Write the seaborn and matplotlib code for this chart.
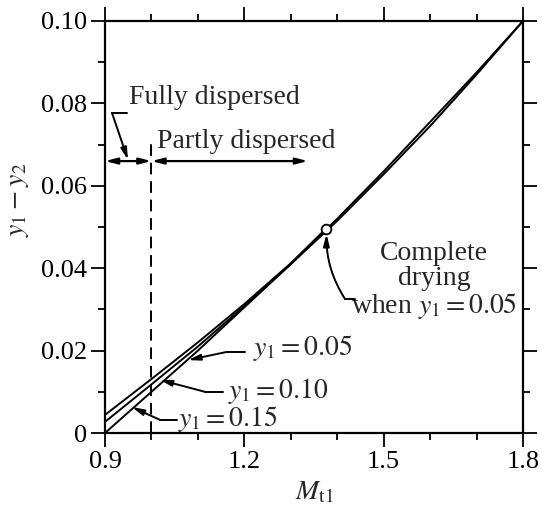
import numpy as np
import pandas as pd
import matplotlib
matplotlib.use("Agg")
import matplotlib.pyplot as plt
import seaborn as sns
from matplotlib.ticker import MultipleLocator, FixedLocator

# ---- data ----
x_grid = [0.9, 1.0, 1.1, 1.2, 1.3, 1.4, 1.5, 1.6, 1.7, 1.8]
y_015 = [0.0000, 0.0100, 0.0200, 0.0305, 0.0410, 0.0520, 0.0635, 0.0755, 0.0875, 0.1000]
y_010 = [0.0027, 0.0118, 0.0210, 0.0308, 0.0410, 0.0515, 0.0628, 0.0745, 0.0870, 0.1000]
x_005 = [0.9, 1.0, 1.1, 1.2, 1.3, 1.375]
y_005 = [0.0044, 0.0131, 0.0220, 0.0313, 0.0412, 0.0495]
dry_point = (1.375, 0.0495)
boundary_M = 1.0

x_ticks = [0.9, 1.2, 1.5, 1.8]
x_ticklabels = ["0.9", "1.2", "1.5", "1.8"]
y_ticks = [0, 0.02, 0.04, 0.06, 0.08, 0.10]
y_ticklabels = ["0", "0.02", "0.04", "0.06", "0.08", "0.10"]

df = pd.concat([
    pd.DataFrame({"M": x_grid, "dy": y_015, "y1": "0.15"}),
    pd.DataFrame({"M": x_grid, "dy": y_010, "y1": "0.10"}),
    pd.DataFrame({"M": x_005, "dy": y_005, "y1": "0.05"}),
])

sns.set_style("ticks")
plt.rcParams["font.family"] = ["Liberation Serif", "DejaVu Serif"]
plt.rcParams["mathtext.fontset"] = "stix"

FS = 20
TFS = 19
fig = plt.figure(figsize=(5.42, 5.09), dpi=100)
ax = fig.add_axes([105/542, 76/509, 418/542, 412/509])

for key in ["0.15", "0.10", "0.05"]:
    sub = df[df["y1"] == key]
    sns.lineplot(data=sub, x="M", y="dy", ax=ax, color="black", lw=1.4,
                 legend=False, sort=False, estimator=None)

ax.set_xlim(0.9, 1.8)
ax.set_ylim(0, 0.10)
ax.xaxis.set_major_locator(FixedLocator(x_ticks))
ax.set_xticklabels(x_ticklabels)
ax.xaxis.set_minor_locator(MultipleLocator(0.1))
ax.yaxis.set_major_locator(FixedLocator(y_ticks))
ax.set_yticklabels(y_ticklabels)
ax.yaxis.set_minor_locator(MultipleLocator(0.01))

for s in ax.spines.values():
    s.set_visible(True)
    s.set_linewidth(1.6)
    s.set_color("black")
ax.tick_params(which="both", direction="out", top=True, right=True,
               color="black", width=1.3, labelsize=TFS, labelcolor="black")
ax.tick_params(which="major", length=10, pad=3)
ax.tick_params(which="minor", length=5)

ax.set_xlabel(r"$M_{\mathrm{t1}}$", fontsize=FS, labelpad=5)
ax.set_ylabel(r"$y_1 - y_2$", fontsize=FS)
ax.yaxis.set_label_coords(-0.178, 0.566)

# dashed boundary
ax.plot([boundary_M, boundary_M], [0, 0.0711], color="black", lw=1.4,
        ls=(0, (6, 3.5)))

# double arrows
arrow_kw = dict(arrowstyle="<|-|>,head_length=0.7,head_width=0.18",
                color="black", lw=1.6, shrinkA=0, shrinkB=0)
ax.annotate("", xy=(0.9, 0.066), xytext=(boundary_M, 0.066), arrowprops=arrow_kw)
ax.annotate("", xy=(boundary_M, 0.066), xytext=(1.337, 0.066), arrowprops=arrow_kw)

ax.text(0.952, 0.0815, "Fully dispersed", fontsize=FS, ha="left", va="center")
ax.text(1.012, 0.0708, "Partly dispersed", fontsize=FS, ha="left", va="center")
pointer = dict(arrowstyle="-|>,head_length=0.7,head_width=0.18", color="black",
               lw=1.4, shrinkA=0, shrinkB=0)
ax.plot([0.915, 0.948], [0.0777, 0.0777], color="black", lw=1.4)
ax.annotate("", xy=(0.9495, 0.0663), xytext=(0.915, 0.0777), arrowprops=pointer)

# complete drying point
ax.plot([dry_point[0]], [dry_point[1]], marker="o", ms=7, mfc="white",
        mec="black", mew=1.3)
ax.text(1.608, 0.0368, "Complete\ndrying\nwhen $y_1 = 0.05$", fontsize=FS,
        ha="center", va="center", linespacing=1.0)
ax.plot([1.438, 1.417], [0.0325, 0.0325], color="black", lw=1.4)
ax.annotate("", xy=(dry_point[0] + 0.002, dry_point[1] - 0.0012),
            xytext=(1.417, 0.0325),
            arrowprops=dict(pointer, connectionstyle="arc3,rad=-0.15"))

# curve labels
labels = [
    (1.219, 0.0206, r"$y_1 = 0.05$", (1.201, 0.0197), (1.163, 0.0197), (1.079, 0.0177)),
    (1.165, 0.0102, r"$y_1 = 0.10$", (1.154, 0.0100), (1.115, 0.0100), (1.018, 0.0129)),
    (1.057, 0.0034, r"$y_1 = 0.15$", (1.055, 0.0032), (1.018, 0.0032), (0.958, 0.0063)),
]
for tx, ty, txt, p0, p1, tip in labels:
    ax.text(tx, ty, txt, fontsize=FS, ha="left", va="center")
    ax.plot([p0[0], p1[0]], [p0[1], p1[1]], color="black", lw=1.4)
    ax.annotate("", xy=tip, xytext=p1, arrowprops=pointer)

fig.savefig("out.png", dpi=100)
